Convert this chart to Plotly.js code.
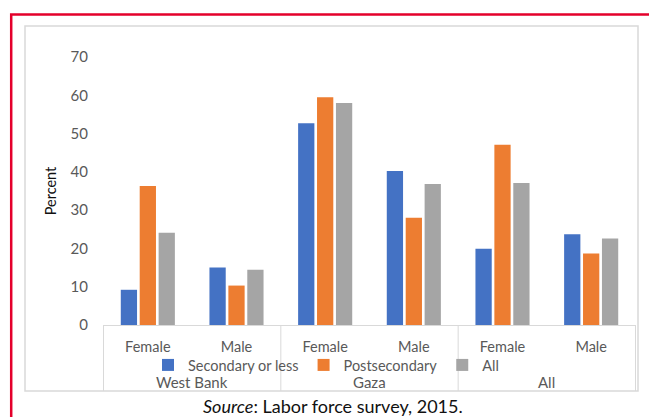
<!DOCTYPE html>
<html>
<head>
<meta charset="utf-8">
<script src="https://cdn.plot.ly/plotly-3.0.1.min.js"></script>
<style>
html,body{margin:0;padding:0;background:#fff;}
#chart{width:649px;height:417px;}
</style>
</head>
<body>
<div id="chart"></div>
<script>
const regions = ['West Bank','West Bank','Gaza','Gaza','All','All'];
const sexes = ['Female','Male','Female','Male','Female','Male'];
const seriesNames = ['Secondary or less','Postsecondary','All'];
const secondaryOrLess = [9.2, 15.0, 52.7, 40.2, 19.9, 23.7];
const postsecondary = [36.3, 10.3, 59.5, 28.0, 47.1, 18.7];
const allEducation = [24.1, 14.4, 58.0, 36.8, 37.1, 22.6];
const yTicks = [0,10,20,30,40,50,60,70];
const sourceNote = '<i>Source</i>: Labor force survey, 2015.';
const yTitle = 'Percent';

const colors = ['#4472C4','#ED7D31','#A5A5A5'];
const values = [secondaryOrLess, postsecondary, allEducation];
const catKeys = regions.map((r,i)=> r + ' / ' + sexes[i]);

const traces = values.map((v,i)=>({
  type:'bar',
  name: seriesNames[i],
  x:catKeys,
  y:v,
  marker:{color:colors[i]},
  hoverinfo:'y'
}));

// group spans (category index coordinates) derived from the regions array
const groups = [];
regions.forEach((r,i)=>{
  if(!groups.length || groups[groups.length-1].name!==r) groups.push({name:r, start:i, end:i});
  else groups[groups.length-1].end = i;
});

// layout geometry (pixels)
const L=103, R=636, T=57, B=325, W=649, H=417;
const px = x => (x-L)/(R-L);
const py = y => (B-y)/(B-T);

const FONT = 'Lato, "Open Sans", sans-serif';
const GREY = '#595959';
const LINE = '#D9D9D9';

const shapes = [
  {type:'rect', xref:'paper', yref:'paper', x0:px(25), x1:px(638), y0:py(391), y1:py(26),
   line:{color:LINE, width:1.5}, fillcolor:'rgba(0,0,0,0)', layer:'below'},
  {type:'rect', xref:'paper', yref:'paper', x0:px(11.2), x1:px(680), y0:py(460), y1:py(14.5),
   line:{color:'#E4002B', width:2.5}, fillcolor:'rgba(0,0,0,0)', layer:'below'}
];
const dividerPos = [groups[0].start-0.5].concat(groups.map(g=>g.end+0.5));
dividerPos.forEach(xv=>{
  shapes.push({type:'line', xref:'x', yref:'paper', x0:xv, x1:xv, y0:py(325), y1:py(391),
               line:{color:LINE, width:1}});
});

const annotations = groups.map(g=>({
  xref:'x', yref:'paper', x:(g.start+g.end)/2, y:py(382), xanchor:'center', yanchor:'middle',
  text:g.name, showarrow:false, font:{family:FONT, size:15, color:GREY}
}));
annotations.push({xref:'paper', yref:'paper', x:px(333), y:py(406), xanchor:'center', yanchor:'middle',
   text:sourceNote, showarrow:false, font:{family:FONT, size:18, color:'#111'}});

const layout = {
  width:W, height:H,
  margin:{l:L, r:W-R, t:T, b:H-B, pad:0},
  paper_bgcolor:'#fff', plot_bgcolor:'#fff',
  font:{family:FONT, color:GREY, size:15},
  showlegend:true,
  barmode:'group',
  bargap:0.36,
  bargroupgap:0.14,
  legend:{orientation:'h', x:px(148), xanchor:'left', y:py(365), yanchor:'middle',
          bgcolor:'rgba(0,0,0,0)', font:{family:FONT, size:14.5, color:GREY},
          itemwidth:30, traceorder:'normal', tracegroupgap:0},
  xaxis:{type:'category', showline:true, linecolor:LINE, linewidth:1,
         ticks:'', tickvals:catKeys, ticktext:sexes, ticklabelstandoff:9,
         tickfont:{family:FONT, size:14.5, color:GREY}, showgrid:false, zeroline:false,
         fixedrange:true},
  yaxis:{range:[0,70], tickvals:yTicks, ticktext:yTicks.map(String), showgrid:false,
         zeroline:false, showline:false, ticks:'', ticklabelstandoff:14,
         tickfont:{family:FONT, size:15, color:GREY},
         title:{text:yTitle, font:{family:FONT, size:14.5, color:'#111'}, standoff:10}},
  shapes:shapes,
  annotations:annotations
};

Plotly.newPlot('chart', traces, layout, {displayModeBar:false, staticPlot:true});
</script>
</body>
</html>
